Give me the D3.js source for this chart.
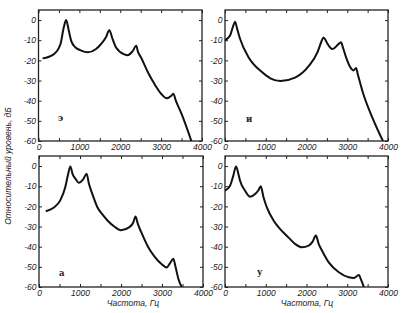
<!DOCTYPE html>
<html lang="ru">
<head>
<meta charset="UTF-8">
<title>Спектры гласных</title>
<script src="https://d3js.org/d3.v7.min.js"></script>
<style>
  body { margin: 0; background: #fff; }
  svg { display: block; }
  .tick text { font-family: "Liberation Sans", Arial, sans-serif; font-style: italic; font-size: 8.5px; fill: #222; }
  .tick line { stroke: #222; stroke-width: 1px; }
  .frame { fill: none; stroke: #222; stroke-width: 1.3px; }
  .curve { fill: none; stroke: #111; stroke-width: 2px; stroke-linejoin: round; }
  .letter { font-family: "DejaVu Serif", serif; font-weight: bold; font-size: 8.5px; fill: #222; }
  .title { font-family: "Liberation Sans", Arial, sans-serif; font-style: italic; font-size: 8.5px; fill: #222; }
</style>
</head>
<body>
<svg width="405" height="313"></svg>
<script>

const xTicks = [0, 1000, 2000, 3000, 4000];
const xMinorTicks = [0, 500, 1000, 1500, 2000, 2500, 3000, 3500, 4000];
const yTicks = [0, -10, -20, -30, -40, -50, -60];

// э
const freqE = [100, 370, 536, 619, 676, 742, 800, 900, 1030, 1210, 1400, 1525, 1650, 1732, 1814, 1897, 2100, 2185, 2300, 2392, 2430, 2515, 2680, 2845, 3010, 3134, 3250, 3299, 3360, 3505, 3740];
const dbE = [-19, -17, -12, -3.6, 0, -5.3, -10.3, -13.5, -15, -16, -14.5, -12, -8.5, -5, -9.5, -13.6, -17, -17.4, -15.5, -12.8, -15.5, -18.8, -26, -32, -36.8, -38.8, -37.5, -36.5, -40, -46.8, -60];

// и
const freqI = [0, 124, 200, 247, 300, 371, 577, 907, 1113, 1361, 1732, 2062, 2268, 2360, 2416, 2470, 2515, 2639, 2780, 2845, 2900, 2969, 3093, 3150, 3216, 3260, 3381, 3629, 3876];
const dbI = [-10, -7.7, -3, -0.8, -4.5, -9.4, -18.4, -25.8, -28.9, -30.2, -28.4, -22.6, -16, -11, -8.6, -10, -11.8, -14.4, -12, -11, -14, -18.4, -24, -25, -23.8, -27, -35.8, -49, -60];

// а
const freqA = [165, 354, 519, 642, 710, 765, 820, 889, 971, 1080, 1160, 1218, 1300, 1424, 1547, 1670, 1835, 2000, 2206, 2300, 2354, 2411, 2494, 2658, 2823, 2988, 3111, 3200, 3276, 3330, 3400, 3481];
const dbA = [-22.4, -20.7, -17, -10.4, -4, -0.2, -4, -6.3, -8.3, -6.5, -3.8, -8.8, -13.8, -20.4, -24, -27, -30, -31.8, -30.3, -28, -25, -28.7, -32.8, -40, -45, -48.6, -50.3, -48, -46, -50, -56, -60];

// у
const freqU = [0, 123, 200, 271, 330, 370, 493, 616, 739, 820, 879, 945, 1027, 1191, 1355, 1560, 1725, 1889, 2053, 2150, 2230, 2300, 2382, 2546, 2793, 3039, 3162, 3285, 3340, 3409];
const dbU = [-12.2, -9.8, -5, -0.2, -4, -7.3, -12.2, -15.2, -13.9, -12, -10, -15.5, -20.5, -27, -31.3, -35.5, -38.7, -40.3, -39.5, -37.5, -34.5, -38.7, -42, -47.8, -52.7, -55.2, -55.5, -54, -56.5, -60];

const panels = [
    { letter: 'э', freq: freqE, db: dbE, x0: 38.5, x1: 202, y0: 10, y1: 141, lx: 58, ly: 121 },
    { letter: 'и', freq: freqI, db: dbI, x0: 225, x1: 388, y0: 10, y1: 141, lx: 246, ly: 122 },
    { letter: 'а', freq: freqA, db: dbA, x0: 39, x1: 203, y0: 156, y1: 287, lx: 59, ly: 276 },
    { letter: 'у', freq: freqU, db: dbU, x0: 225, x1: 388, y0: 156, y1: 287, lx: 257, ly: 275 }
];

const svg = d3.select('svg');
const fmt = d => String(d);

panels.forEach((p, i) => {
    const xScale = d3.scaleLinear().domain([0, 4000]).range([p.x0, p.x1]);
    const yScale = d3.scaleLinear().domain([-60, 5]).range([p.y1, p.y0]);
    const g = svg.append('g').attr('class', 'panel');

    g.append('clipPath')
        .attr('id', 'clip' + i)
        .append('rect')
        .attr('x', p.x0).attr('y', p.y0)
        .attr('width', p.x1 - p.x0).attr('height', p.y1 - p.y0);

    const xAxis = d3.axisBottom(xScale).tickValues(xMinorTicks).tickSize(-3).tickPadding(3)
        .tickFormat(d => xTicks.includes(d) ? fmt(d) : '');
    g.append('g').attr('transform', `translate(0,${p.y1})`).call(xAxis)
        .call(s => s.select('.domain').remove());

    g.append('g').attr('transform', `translate(0,${p.y0})`)
        .call(d3.axisTop(xScale).tickValues(xMinorTicks).tickSize(-3).tickFormat(''))
        .call(s => s.select('.domain').remove());

    const yAxis = d3.axisLeft(yScale).tickValues(yTicks).tickSize(-3).tickPadding(2.5).tickFormat(fmt);
    g.append('g').attr('transform', `translate(${p.x0},0)`).call(yAxis)
        .call(s => s.select('.domain').remove());

    g.append('g').attr('transform', `translate(${p.x1},0)`)
        .call(d3.axisRight(yScale).tickValues(yTicks).tickSize(-3).tickFormat(''))
        .call(s => s.select('.domain').remove());

    g.append('rect')
        .attr('class', 'frame')
        .attr('x', p.x0).attr('y', p.y0)
        .attr('width', p.x1 - p.x0).attr('height', p.y1 - p.y0);

    const line = d3.line()
        .x(d => xScale(d[0]))
        .y(d => yScale(d[1]))
        .curve(d3.curveMonotoneX);

    g.append('path')
        .datum(d3.zip(p.freq, p.db))
        .attr('class', 'curve')
        .attr('clip-path', `url(#clip${i})`)
        .attr('d', line);

    g.append('text')
        .attr('class', 'letter')
        .attr('x', p.lx).attr('y', p.ly)
        .text(p.letter);
});

svg.append('text')
    .attr('class', 'title')
    .attr('transform', 'translate(11,166) rotate(-90)')
    .attr('text-anchor', 'middle')
    .text('Относительный уровень, дБ');

svg.append('text')
    .attr('class', 'title')
    .attr('x', 133).attr('y', 306)
    .attr('text-anchor', 'middle')
    .text('Частота, Гц');

svg.append('text')
    .attr('class', 'title')
    .attr('x', 307).attr('y', 306)
    .attr('text-anchor', 'middle')
    .text('Частота, Гц');

</script>
</body>
</html>
